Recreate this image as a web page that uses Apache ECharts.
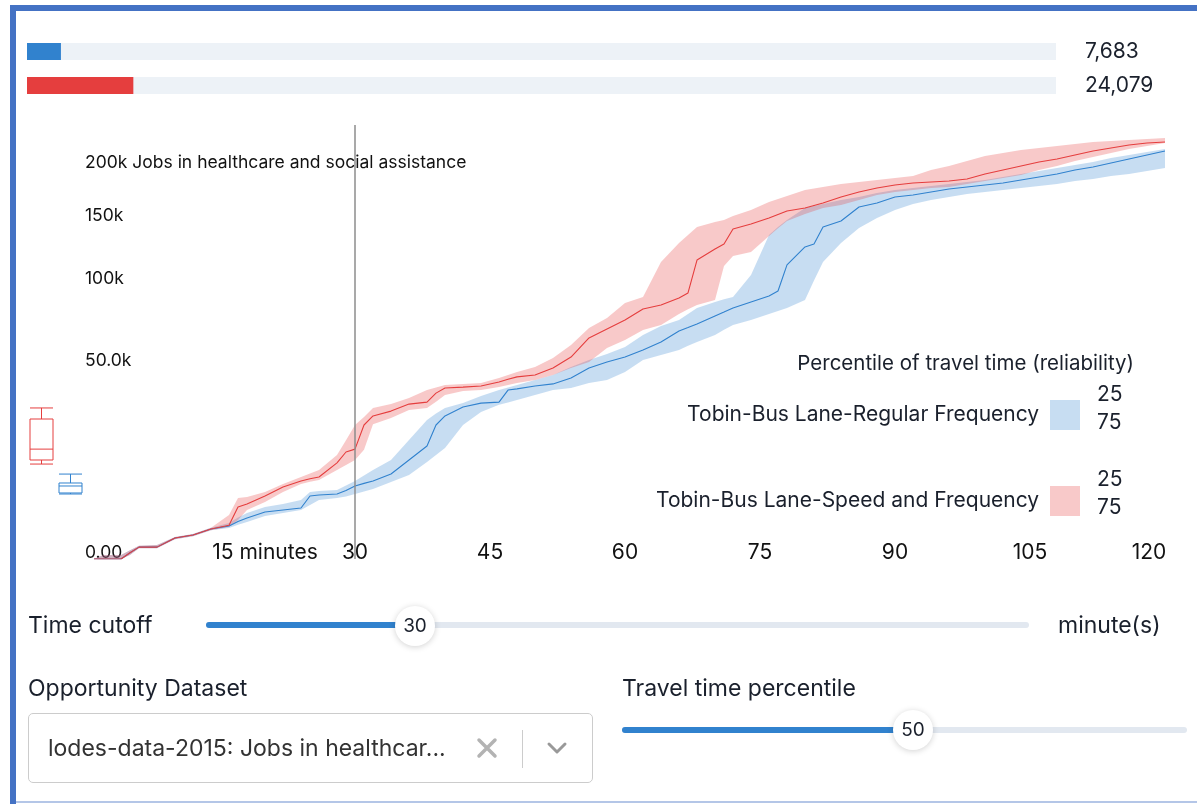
<!DOCTYPE html>
<html>
<head>
<meta charset="utf-8">
<script src="https://cdn.jsdelivr.net/npm/echarts@6/dist/echarts.min.js"></script>
<style>
  html, body { margin: 0; padding: 0; background: #fff; }
  #page { position: relative; width: 1197px; height: 804px; overflow: hidden; font-family: Inter, "Noto Sans", sans-serif; color: #1a202c; }
  #chart { position: absolute; left: 0; top: 0; width: 1197px; height: 804px; }
  .abs { position: absolute; }
  .lbl { font-size: 23px; line-height: 28px; white-space: nowrap; }
  .track { height: 6px; border-radius: 3px; background: #e2e8f0; }
  .fill { height: 6px; border-radius: 3px; background: #3182ce; }
  .thumb { width: 40px; height: 40px; border-radius: 50%; background: #fff; box-shadow: 0 1px 6px rgba(0,0,0,0.18); font-size: 19px; line-height: 40px; text-align: center; }
</style>
</head>
<body>
<div id="page">
  <div id="chart"></div>

  <!-- frame -->
  <div class="abs" style="left:10px;top:5px;width:6px;height:799px;background:#4472c4"></div>
  <div class="abs" style="left:10px;top:5px;right:0;height:6px;background:#4472c4"></div>
  <div class="abs" style="left:16px;top:801px;right:0;height:2px;background:#b4c6e7"></div>

  <!-- time cutoff slider -->
  <div class="abs lbl" style="left:28px;top:611px">Time cutoff</div>
  <div class="abs track" style="left:206px;top:622px;width:823px"></div>
  <div class="abs fill" style="left:206px;top:622px;width:209px"></div>
  <div class="abs thumb" style="left:395px;top:606px">30</div>
  <div class="abs lbl" style="left:1058px;top:611px">minute(s)</div>

  <!-- dataset select -->
  <div class="abs lbl" style="left:28px;top:674px">Opportunity Dataset</div>
  <div class="abs" style="left:28px;top:713px;width:563px;height:68px;border:1px solid #cccccc;border-radius:5px"></div>
  <div class="abs lbl" style="left:48px;top:734px;color:#333">lodes-data-2015: Jobs in healthcar...</div>
  <svg class="abs" style="left:476px;top:737px" width="22" height="22" viewBox="0 0 22 22">
    <path d="M3 3 L19 19 M19 3 L3 19" stroke="#b3b3b3" stroke-width="3.5" stroke-linecap="round"/>
  </svg>
  <div class="abs" style="left:522px;top:730px;width:1px;height:38px;background:#cccccc"></div>
  <svg class="abs" style="left:546px;top:740px" width="22" height="16" viewBox="0 0 22 16">
    <path d="M3 4 L11 12 L19 4" stroke="#999" stroke-width="3" fill="none" stroke-linecap="round" stroke-linejoin="round"/>
  </svg>

  <!-- percentile slider -->
  <div class="abs lbl" style="left:622px;top:674px">Travel time percentile</div>
  <div class="abs track" style="left:622px;top:727px;width:565px"></div>
  <div class="abs fill" style="left:622px;top:727px;width:291px"></div>
  <div class="abs thumb" style="left:893px;top:710px">50</div>
</div>

<script>
// ---- data (thousands of jobs) ----
const minutes = [1, 2, 4, 5, 6, 8, 10, 12, 14, 16, 17, 18, 20, 22, 24, 25, 26, 28, 29, 30,
  31, 32, 34, 36, 38, 39, 40, 42, 44, 46, 47, 48, 50, 52, 54, 56, 58, 60, 62, 64,
  66, 67, 68, 70, 71, 72, 74, 76, 77, 78, 80, 81, 82, 84, 86, 88, 90, 92, 94, 96,
  98, 100, 102, 104, 106, 108, 110, 112, 114, 116, 118, 120]

// Tobin-Bus Lane-Speed and Frequency
const speedMid = [0, 0, 0, 0.05, 0.18, 0.18, 0.56, 0.73, 1.15, 1.45, 3.45, 3.86, 5.06, 6.61, 7.76, 8.2, 8.58, 11.8, 14.6, 15.4,
  22.9, 26.1, 27.9, 30.6, 31.4, 35.1, 37.3, 37.7, 38.2, 40.0, 41.2, 42.3, 43.2, 46.5, 52.0, 62.3, 67.5, 72.9, 79.7, 82.3,
  86.9, 90.3, 114.0, 122.6, 126.6, 138.9, 143.1, 148.3, 151.4, 154.5, 157.1, 159.4, 161.6, 167.2, 171.8, 175.6, 178.4, 180.3, 181.3, 182.3,
  184.2, 189.1, 193.0, 197.0, 201.0, 204.1, 208.2, 212.3, 215.5, 218.6, 220.7, 221.8]
const speedP25 = [0, 0.02, 0.02, 0.1, 0.22, 0.25, 0.62, 0.8, 1.25, 2.47, 4.75, 4.9, 5.73, 7.17, 8.58, 9.3, 10.1, 13.8, 18.0, 22.9,
  25.7, 29.1, 30.6, 33.1, 36.4, 37.5, 38.6, 39.1, 39.5, 41.8, 43.2, 44.6, 47.0, 51.5, 58.4, 68.1, 74.1, 83.6, 87.6, 112.5,
  127.4, 134.0, 140.6, 144.9, 146.6, 150.1, 155.4, 162.6, 165.4, 168.1, 173.7, 175.1, 176.5, 179.4, 181.3, 183.2, 185.2, 187.1, 193.0, 197.0,
  202.0, 207.2, 210.3, 213.4, 215.5, 217.6, 219.7, 221.8, 222.9, 223.9, 225.0, 226.1]
const speedP75 = [0, 0, 0, 0.02, 0.15, 0.15, 0.5, 0.66, 1.05, 1.31, 1.94, 3.06, 4.14, 5.73, 7.17, 7.6, 7.96, 10.1, 11.3, 12.5,
  15.2, 23.2, 25.4, 28.3, 29.1, 31.5, 34.3, 36.0, 36.4, 37.7, 38.6, 39.5, 40.9, 43.2, 46.5, 49.5, 56.8, 61.2, 66.9, 69.8,
  76.6, 79.5, 82.3, 85.6, 109.5, 117.1, 120.2, 133.1, 139.5, 145.7, 151.8, 154.5, 157.1, 159.8, 164.4, 169.0, 171.8, 173.7, 175.6, 176.5,
  179.4, 182.3, 185.2, 188.1, 193.0, 197.0, 202.0, 206.1, 210.3, 214.4, 217.6, 220.7]

// Tobin-Bus Lane-Regular Frequency
const regularMid = [0, 0, 0, 0.05, 0.18, 0.18, 0.56, 0.73, 1.15, 1.39, 1.8, 2.14, 2.82, 3.06, 3.32, 5.06, 5.22, 5.39, 6.0, 6.8,
  7.3, 7.76, 9.22, 12.5, 16.3, 22.9, 26.1, 29.5, 31.0, 31.4, 36.4, 36.9, 38.2, 39.1, 41.8, 46.5, 49.5, 52.0, 55.7, 60.1,
  66.3, 68.3, 70.4, 75.3, 77.8, 80.4, 84.3, 88.2, 91.6, 110.3, 124.2, 126.6, 140.6, 145.7, 158.0, 161.6, 167.2, 169.0, 171.8, 174.6,
  176.5, 178.4, 180.3, 183.2, 186.1, 189.1, 193.0, 196.0, 200.0, 204.1, 208.2, 212.3]
const regularP25 = [0, 0.02, 0.02, 0.1, 0.22, 0.25, 0.62, 0.8, 1.25, 1.65, 2.2, 2.7, 3.45, 3.86, 4.44, 5.73, 5.9, 6.07, 6.9, 7.76,
  8.9, 10.1, 12.5, 18.1, 24.6, 27.0, 29.1, 31.0, 33.9, 36.4, 37.5, 38.6, 40.9, 43.2, 47.0, 50.5, 53.6, 57.3, 64.0, 69.2,
  72.9, 76.5, 80.4, 84.3, 86.0, 87.6, 102.9, 133.9, 140.5, 146.6, 157.1, 159.0, 160.7, 164.4, 167.2, 170.9, 173.7, 175.6, 177.5, 179.4,
  181.3, 183.2, 186.1, 189.1, 192.0, 195.0, 198.0, 201.0, 205.1, 208.2, 211.3, 214.4]
const regularP75 = [0, 0, 0, 0.02, 0.15, 0.15, 0.5, 0.66, 1.05, 1.23, 1.5, 1.75, 2.36, 2.7, 3.06, 3.72, 4.44, 4.75, 5.0, 5.39,
  5.8, 6.25, 7.56, 9.0, 12.0, 13.8, 15.7, 22.9, 27.6, 30.3, 31.2, 32.2, 34.3, 36.4, 37.3, 39.5, 40.9, 44.6, 50.5, 53.1,
  55.7, 58.0, 60.1, 64.0, 67.0, 69.8, 72.9, 76.6, 78.5, 80.4, 85.6, 99.0, 112.5, 127.4, 139.8, 148.3, 155.4, 160.7, 164.4, 167.2,
  169.9, 171.8, 173.7, 175.6, 177.5, 179.4, 182.3, 184.2, 187.1, 189.1, 192.0, 195.0]

// box plots at the cutoff: [min, q1, median, q3, max]
const speedBox = [11.5, 12.5, 15.4, 25.0, 29.1]
const regularBox = [5.39, 5.56, 6.8, 7.37, 9.2]

// bars at the top
const scenarioNames = ['Tobin-Bus Lane-Regular Frequency', 'Tobin-Bus Lane-Speed and Frequency']
const cutoffJobs = [7683, 24079]
const totalJobs = 233000
const cutoffMinute = 30

const xTicks = [0, 15, 30, 45, 60, 75, 90, 105, 120]
const yTicks = [0, 50, 100, 150, 200]
const yTickLabels = ['0.00', '50.0k', '100k', '150k', '200k Jobs in healthcare and social assistance']

// ---- colours ----
const blue = '#3182ce'
const red = '#e53e3e'
const blueBand = 'rgba(49,130,206,0.27)'
const redBand = 'rgba(229,62,62,0.28)'
const font = 'Inter, "Noto Sans", sans-serif'
const ink = '#1a202c'

// the y axis is a square-root scale
const sq = v => Math.sqrt(v)
const toPairs = arr => minutes.map((m, i) => [m, sq(arr[i])])
const yMax = 15.5

// 25-75 band as one polygon, drawn through the axis scales
function bandSeries(name, hi, lo, color) {
  return {
    name: name,
    type: 'custom',
    xAxisIndex: 0,
    yAxisIndex: 0,
    silent: true,
    itemStyle: { color: color },
    data: [[minutes[0], 0]],
    renderItem: (params, api) => {
      const top = minutes.map((m, i) => api.coord([m, sq(hi[i])]))
      const bottom = minutes.map((m, i) => api.coord([m, sq(lo[i])])).reverse()
      return {
        type: 'polygon',
        shape: { points: top.concat(bottom) },
        style: { fill: color }
      }
    }
  }
}

const myChart = echarts.init(document.getElementById('chart'), null, { renderer: 'canvas' })

const option = {
  backgroundColor: 'transparent',
  animation: false,
  textStyle: { fontFamily: font },
  title: {
    text: 'Percentile of travel time (reliability)',
    right: 58,
    top: 348,
    textStyle: { fontSize: 20.5, fontWeight: 'normal', color: ink, fontFamily: font }
  },
  legend: {
    orient: 'vertical',
    right: 112,
    top: 395,
    itemWidth: 30,
    itemHeight: 30,
    itemGap: 56,
    align: 'right',
    icon: 'rect',
    selectedMode: false,
    itemStyle: { borderWidth: 0 },
    formatter: name => name + ' ',
    textStyle: { fontSize: 21, color: ink, fontFamily: font },
    data: [
      { name: scenarioNames[0], itemStyle: { color: blueBand } },
      { name: scenarioNames[1], itemStyle: { color: redBand } }
    ]
  },
  graphic: [
    { type: 'text', left: 1097, top: 381, style: { text: '25\n75', font: '21px ' + font, fill: ink, lineHeight: 28 } },
    { type: 'text', left: 1097, top: 466, style: { text: '25\n75', font: '21px ' + font, fill: ink, lineHeight: 28 } }
  ],
  grid: [
    { left: 85, right: 32, top: 559 - yMax * 28, bottom: 245 },
    { left: 27, width: 58, top: 559 - yMax * 28, bottom: 245 },
    { left: 27, right: 141, top: 34.5, height: 68 }
  ],
  xAxis: [{
    gridIndex: 0,
    type: 'value',
    min: 0,
    max: 120,
    interval: 15,
    axisLine: { show: false },
    axisTick: { show: false },
    splitLine: { show: false },
    axisLabel: {
      margin: -17,
      fontSize: 21,
      color: '#111',
      fontFamily: font,
      showMinLabel: true,
      showMaxLabel: true,
      formatter: v => {
        if (v === xTicks[0]) return ''
        if (v === 15) return '{m|15 minutes}'
        if (v === 120) return '{e|120}'
        return String(v)
      },
      rich: {
        m: { fontSize: 21, color: '#111', fontFamily: font, padding: [0, 0, 0, 90] },
        e: { fontSize: 21, color: '#111', fontFamily: font, padding: [0, 32, 0, 0] }
      }
    }
  }, {
    gridIndex: 1,
    type: 'category',
    data: ['speed', 'regular'],
    show: false
  }, {
    gridIndex: 2,
    type: 'value',
    min: 0,
    max: totalJobs,
    show: false
  }],
  yAxis: [{
    gridIndex: 0,
    type: 'value',
    min: 0,
    max: yMax,
    axisLine: { show: false },
    axisTick: { show: false },
    splitLine: { show: false },
    axisLabel: {
      inside: true,
      margin: 0,
      fontSize: 17.5,
      color: '#111',
      fontFamily: font,
      customValues: yTicks.map(sq),
      formatter: v => {
        const i = yTicks.findIndex(t => Math.abs(sq(t) - v) < 1e-6)
        if (i === 0) return '{z|' + yTickLabels[0] + '}'
        return i >= 0 ? yTickLabels[i] : ''
      },
      rich: {
        z: { fontSize: 17.5, color: '#111', fontFamily: font, padding: [0, 0, 12, 0] }
      }
    }
  }, {
    gridIndex: 1,
    type: 'value',
    min: 0,
    max: yMax,
    show: false
  }, {
    gridIndex: 2,
    type: 'category',
    inverse: true,
    data: scenarioNames,
    show: false
  }, {
    gridIndex: 2,
    type: 'category',
    position: 'right',
    inverse: true,
    data: cutoffJobs.map(v => v.toLocaleString('en-US')),
    axisLine: { show: false },
    axisTick: { show: false },
    axisLabel: { margin: 29, fontSize: 21, color: ink, fontFamily: font }
  }],
  series: [
    bandSeries(scenarioNames[0], regularP25, regularP75, blueBand),
    bandSeries(scenarioNames[1], speedP25, speedP75, redBand),
    {
      name: scenarioNames[0],
      type: 'line',
      data: toPairs(regularMid),
      symbol: 'none',
      lineStyle: { color: blue, width: 1.1 },
      itemStyle: { color: blue }
    },
    {
      name: scenarioNames[1],
      type: 'line',
      data: toPairs(speedMid),
      symbol: 'none',
      lineStyle: { color: red, width: 1.1 },
      itemStyle: { color: red },
      markLine: {
        silent: true,
        symbol: 'none',
        label: { show: false },
        lineStyle: { color: '#8c8c8c', width: 1.5, type: 'solid' },
        data: [{ xAxis: cutoffMinute }]
      }
    },
    {
      name: 'box',
      type: 'boxplot',
      xAxisIndex: 1,
      yAxisIndex: 1,
      boxWidth: [23, 23],
      silent: true,
      data: [
        { value: speedBox.map(sq), itemStyle: { color: 'rgba(255,255,255,0)', borderColor: red, borderWidth: 1 } },
        { value: regularBox.map(sq), itemStyle: { color: 'rgba(255,255,255,0)', borderColor: blue, borderWidth: 1 } }
      ]
    },
    {
      name: 'cutoff',
      type: 'bar',
      xAxisIndex: 2,
      yAxisIndex: 2,
      barWidth: 17,
      silent: true,
      showBackground: true,
      backgroundStyle: { color: '#edf2f7' },
      data: cutoffJobs.map((v, i) => ({ value: v, itemStyle: { color: i === 0 ? blue : red } }))
    }
  ]
}

myChart.setOption(option)
window.addEventListener('resize', () => {
  myChart.resize()
})
</script>
</body>
</html>
